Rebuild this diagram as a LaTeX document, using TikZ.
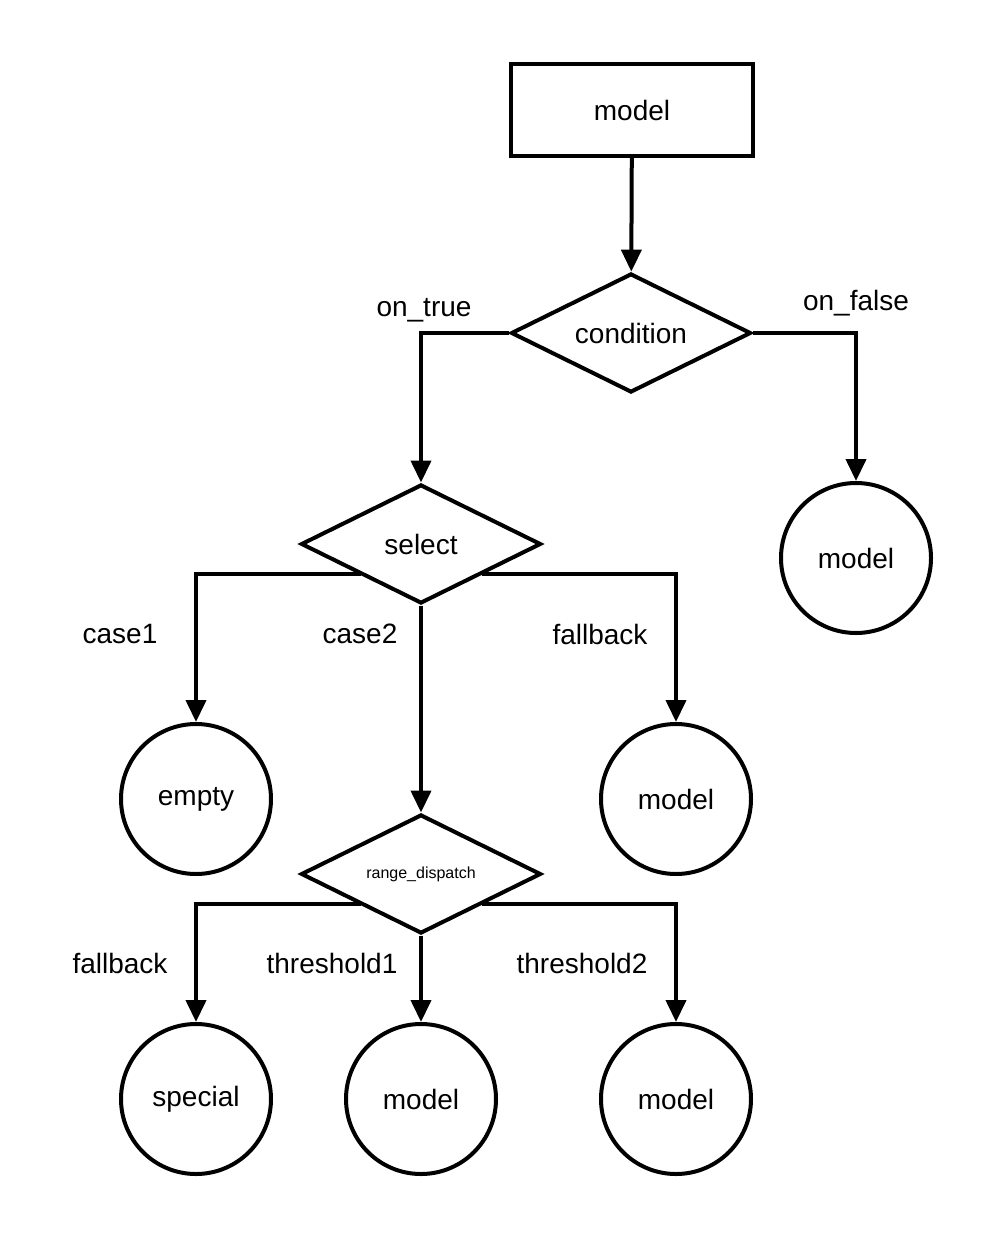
\documentclass[tikz,border=0pt]{standalone}
\usepackage{fontspec}
\setmainfont{Liberation Sans}
\usetikzlibrary{shapes.geometric,arrows.meta}
\begin{document}
\begin{tikzpicture}[x=0.5pt,y=-0.5pt,
  every node/.style={font=\fontsize{14}{16}\selectfont},
  box/.style={draw,line width=2pt,minimum width=121pt,minimum height=46pt,inner sep=0},
  dia/.style={draw,diamond,shape aspect=2,line width=2pt,minimum width=120pt,minimum height=59.5pt,inner sep=0},
  circ/.style={draw,circle,line width=2pt,minimum size=75pt,inner sep=0},
  conn/.style={line width=2pt,-{Triangle[length=11pt,width=10pt]}},
  lbl/.style={inner sep=0}]
\useasboundingbox (0,0) rectangle (996,1236);
\node[box] (top) at (632,110) {model};
\node[dia] (cond) at (631,333) {condition};
\node[dia] (sel) at (421,544) {select};
\node[circ] (mf) at (856,558) {model};
\node[circ] (empty) at (196,799) {empty};
\node[circ] (mfb) at (676,799) {model};
\node[dia] (rd) at (421,874) {\fontsize{8}{9}\selectfont range\_dispatch};
\node[circ] (sp) at (196,1099) {special};
\node[circ] (m1) at (421,1099) {model};
\node[circ] (m2) at (676,1099) {model};
\coordinate (s1) at (361,574);
\coordinate (s2) at (482,574);
\coordinate (r1) at (361,904);
\coordinate (r2) at (482,904);
\draw[conn] (top) -- (cond);
\draw[conn] (cond.west) -| (sel.north);
\draw[conn] (cond.east) -| (mf.north);
\draw[conn] (s1) -| (empty.north);
\draw[conn] (s2) -| (mfb.north);
\draw[conn] (sel.south) -- (rd.north);
\draw[conn] (r1) -| (sp.north);
\draw[conn] (rd.south) -- (m1.north);
\draw[conn] (r2) -| (m2.north);
\node[lbl] (l1) at (424,310) {on\_true};
\node[lbl] (l2) at (856,303) {on\_false};
\node[lbl] (l3) at (120,634) {case1};
\node[lbl] (l4) at (360,634) {case2};
\node[lbl] (l5) at (600,634) {fallback};
\node[lbl] (l6) at (120,963) {fallback};
\node[lbl] (l7) at (332,963) {threshold1};
\node[lbl] (l8) at (582,963) {threshold2};
\end{tikzpicture}
\end{document}
